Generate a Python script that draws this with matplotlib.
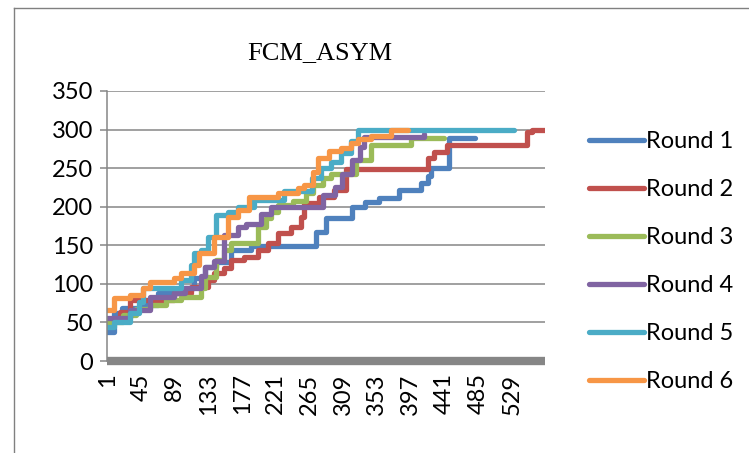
import matplotlib.pyplot as plt
from matplotlib.lines import Line2D

plt.rcParams['font.family'] = ['Lato', 'DejaVu Sans']

TITLE = 'FCM_ASYM'
N_CATS = 572
X_TICKS = list(range(1, N_CATS + 1, 44))
Y_TICKS = [0, 50, 100, 150, 200, 250, 300, 350]

# step series: category where each level starts, and the level
round1_x = [1, 9, 20, 44, 67, 97, 114, 129, 143, 162, 188, 274, 287, 321, 338, 356, 382, 410, 420, 424, 447, 481]
round1_y = [37, 62, 69, 72, 88, 95, 107, 122, 128, 144, 149, 167, 185, 200, 206, 211, 222, 231, 240, 250, 289, 289]

round2_x = [1, 18, 31, 88, 110, 132, 140, 153, 162, 179, 198, 211, 224, 241, 254, 258, 278, 297, 313, 420, 428, 444, 549, 555, 572]
round2_y = [55, 63, 79, 88, 96, 105, 114, 120, 131, 135, 144, 153, 166, 174, 187, 205, 212, 222, 249, 263, 271, 280, 297, 300, 300]

round3_x = [1, 22, 38, 57, 77, 97, 123, 129, 143, 153, 162, 198, 208, 215, 224, 243, 260, 270, 283, 293, 326, 345, 398, 440]
round3_y = [50, 60, 68, 73, 79, 83, 95, 109, 131, 144, 153, 174, 185, 193, 202, 207, 218, 228, 237, 243, 260, 280, 289, 289]

round4_x = [1, 31, 57, 88, 103, 123, 129, 140, 153, 171, 182, 201, 215, 283, 298, 307, 321, 331, 336, 414]
round4_y = [56, 66, 83, 88, 95, 110, 122, 130, 163, 174, 178, 191, 200, 215, 226, 243, 260, 278, 291, 294]

round5_x = [1, 9, 31, 42, 47, 97, 110, 114, 123, 132, 143, 158, 171, 192, 232, 268, 280, 293, 306, 319, 328, 532]
round5_y = [44, 50, 62, 77, 95, 105, 124, 140, 144, 161, 189, 193, 200, 209, 220, 237, 250, 258, 270, 285, 300, 300]

round6_x = [1, 9, 31, 48, 57, 88, 97, 114, 120, 140, 158, 171, 186, 224, 250, 258, 270, 276, 291, 306, 319, 328, 345, 372, 394]
round6_y = [66, 82, 86, 95, 102, 107, 114, 125, 140, 161, 187, 196, 213, 218, 224, 228, 245, 263, 272, 276, 282, 288, 292, 300, 300]

ROUNDS = [
    ('Round 1', round1_x, round1_y, '#4F81BD'),
    ('Round 2', round2_x, round2_y, '#C0504D'),
    ('Round 3', round3_x, round3_y, '#9BBB59'),
    ('Round 4', round4_x, round4_y, '#8064A2'),
    ('Round 5', round5_x, round5_y, '#4BACC6'),
    ('Round 6', round6_x, round6_y, '#F79646'),
]

GRID = '#868686'

fig = plt.figure(figsize=(7.49, 4.53), dpi=100)
ax = fig.add_axes([107 / 749, 1 - 361 / 453, 438 / 749, 270 / 453])

for label, xs, ys, color in ROUNDS:
    ax.step(xs, ys, where='post', color=color, linewidth=3.8, label=label,
            solid_joinstyle='round', solid_capstyle='round')

ax.set_xlim(0.5, N_CATS + 0.5)
ax.set_ylim(0, 350)
ax.set_yticks(Y_TICKS)
ax.set_xticks(X_TICKS)
ax.grid(axis='y', color=GRID, linewidth=1.1)
ax.set_axisbelow(True)

for side in ('top', 'right'):
    ax.spines[side].set_visible(False)
ax.spines['left'].set_color(GRID)
ax.spines['left'].set_linewidth(1.1)
ax.spines['bottom'].set_color(GRID)
ax.spines['bottom'].set_linewidth(6)
ax.spines['bottom'].set_capstyle('butt')

ax.tick_params(axis='y', length=5, width=1.1, color=GRID, labelsize=17, pad=5)
ax.tick_params(axis='x', length=0, labelsize=17, pad=9, labelrotation=90)

fig.text(320 / 749, 1 - 53 / 453, TITLE, family='Liberation Serif', fontsize=19,
         ha='center', va='center')

fig.legend(loc='upper left', bbox_to_anchor=(580 / 749, 1 - 122 / 453), frameon=False,
           fontsize=17, handlelength=2.3, handletextpad=0.1, labelspacing=1.14,
           borderaxespad=0)

# chart-area border (cropped)
fig.add_artist(Line2D([14 / 749, 14 / 749], [0, 1 - 8 / 453], color='#808080', linewidth=1))
fig.add_artist(Line2D([14 / 749, 1], [1 - 8 / 453, 1 - 8 / 453], color='#808080', linewidth=1))

fig.savefig('out.png', dpi=100)
plt.close(fig)
